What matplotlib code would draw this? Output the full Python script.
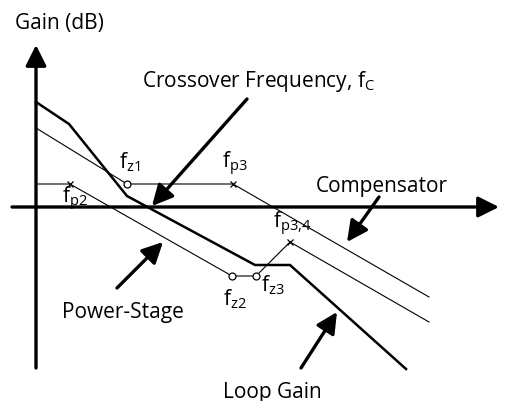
import numpy as np
import matplotlib
matplotlib.use("Agg")
import matplotlib.pyplot as plt

# ── Font setup ───────────────────────────────────────────────
plt.rcParams['font.family'] = ['Open Sans', 'DejaVu Sans']
plt.rcParams['mathtext.default'] = 'regular'

# ── Asymptotic Bode sketch (x: log-frequency units, y: gain units) ──
loop_f = [0, 33, 91, 219, 254, 370]
loop_g = [105, 83, 11, -58, -58, -162]

comp_f = [0, 91, 197, 393]
comp_g = [79, 23, 23, -90]

pwr_f = [0, 34, 196, 220, 254, 393]
pwr_g = [23, 23, -69, -69, -35, -115]

# poles (x) and zeros (o)
pole_f = [34, 197, 254]
pole_g = [23, 23, -35]
zero_f = [91, 196, 220]
zero_g = [23, -69, -69]

# pole / zero labels: (text, x, y)
pz_labels = [
    (r'f$_{z1}$',   83, 40),
    (r'f$_{p3}$',  186, 40),
    (r'f$_{p2}$',   26, 5),
    (r'f$_{p3{,}4}$', 237, -20),
    (r'f$_{z2}$',  187, -97),
    (r'f$_{z3}$',  225, -83),
]

# callouts: (text, text_x, text_y, arrow_from, arrow_to)
callouts = [
    (r'Crossover Frequency, f$_C$', 106, 121, (211, 108), (116, 1)),
    ('Compensator',                  280, 16,  (343, 10),  (311, -35)),
    ('Power-Stage',                   26, -110, (81, -81),  (127, -35)),
    ('Loop Gain',                    187, -190, (265, -161), (301, -105)),
]

ARROW = dict(arrowstyle='-|>,head_length=0.9,head_width=0.45',
             lw=2.4, color='black', mutation_scale=14,
             shrinkA=0, shrinkB=0)

fig = plt.figure(figsize=(5.08, 4.02), dpi=100)
ax = fig.add_axes([0, 0, 1, 1])
ax.set_xlim(-36, 472)
ax.set_ylim(-194, 208)
ax.axis('off')

# axes with arrow heads
ax.annotate('', xy=(463, 0), xytext=(-24, 0), arrowprops=ARROW)
ax.annotate('', xy=(0, 162), xytext=(0, -161), arrowprops=ARROW)
ax.text(-21, 179, 'Gain (dB)', fontsize=15, ha='left', va='baseline')

# curves
ax.plot(loop_f, loop_g, color='black', lw=1.8, solid_joinstyle='miter')
ax.plot(comp_f, comp_g, color='black', lw=0.8)
ax.plot(pwr_f, pwr_g, color='black', lw=0.8)

ax.plot(pole_f, pole_g, 'x', color='black', ms=4, mew=0.9)
ax.plot(zero_f, zero_g, 'o', mfc='white', mec='black', ms=5, mew=0.9)

for txt, x, y in pz_labels:
    ax.text(x, y, txt, fontsize=15, ha='left', va='baseline')

for txt, tx, ty, a_from, a_to in callouts:
    ax.text(tx, ty, txt, fontsize=15, ha='left', va='baseline')
    ax.annotate('', xy=a_to, xytext=a_from, arrowprops=ARROW)

fig.savefig('out.png', dpi=100, facecolor='white')
